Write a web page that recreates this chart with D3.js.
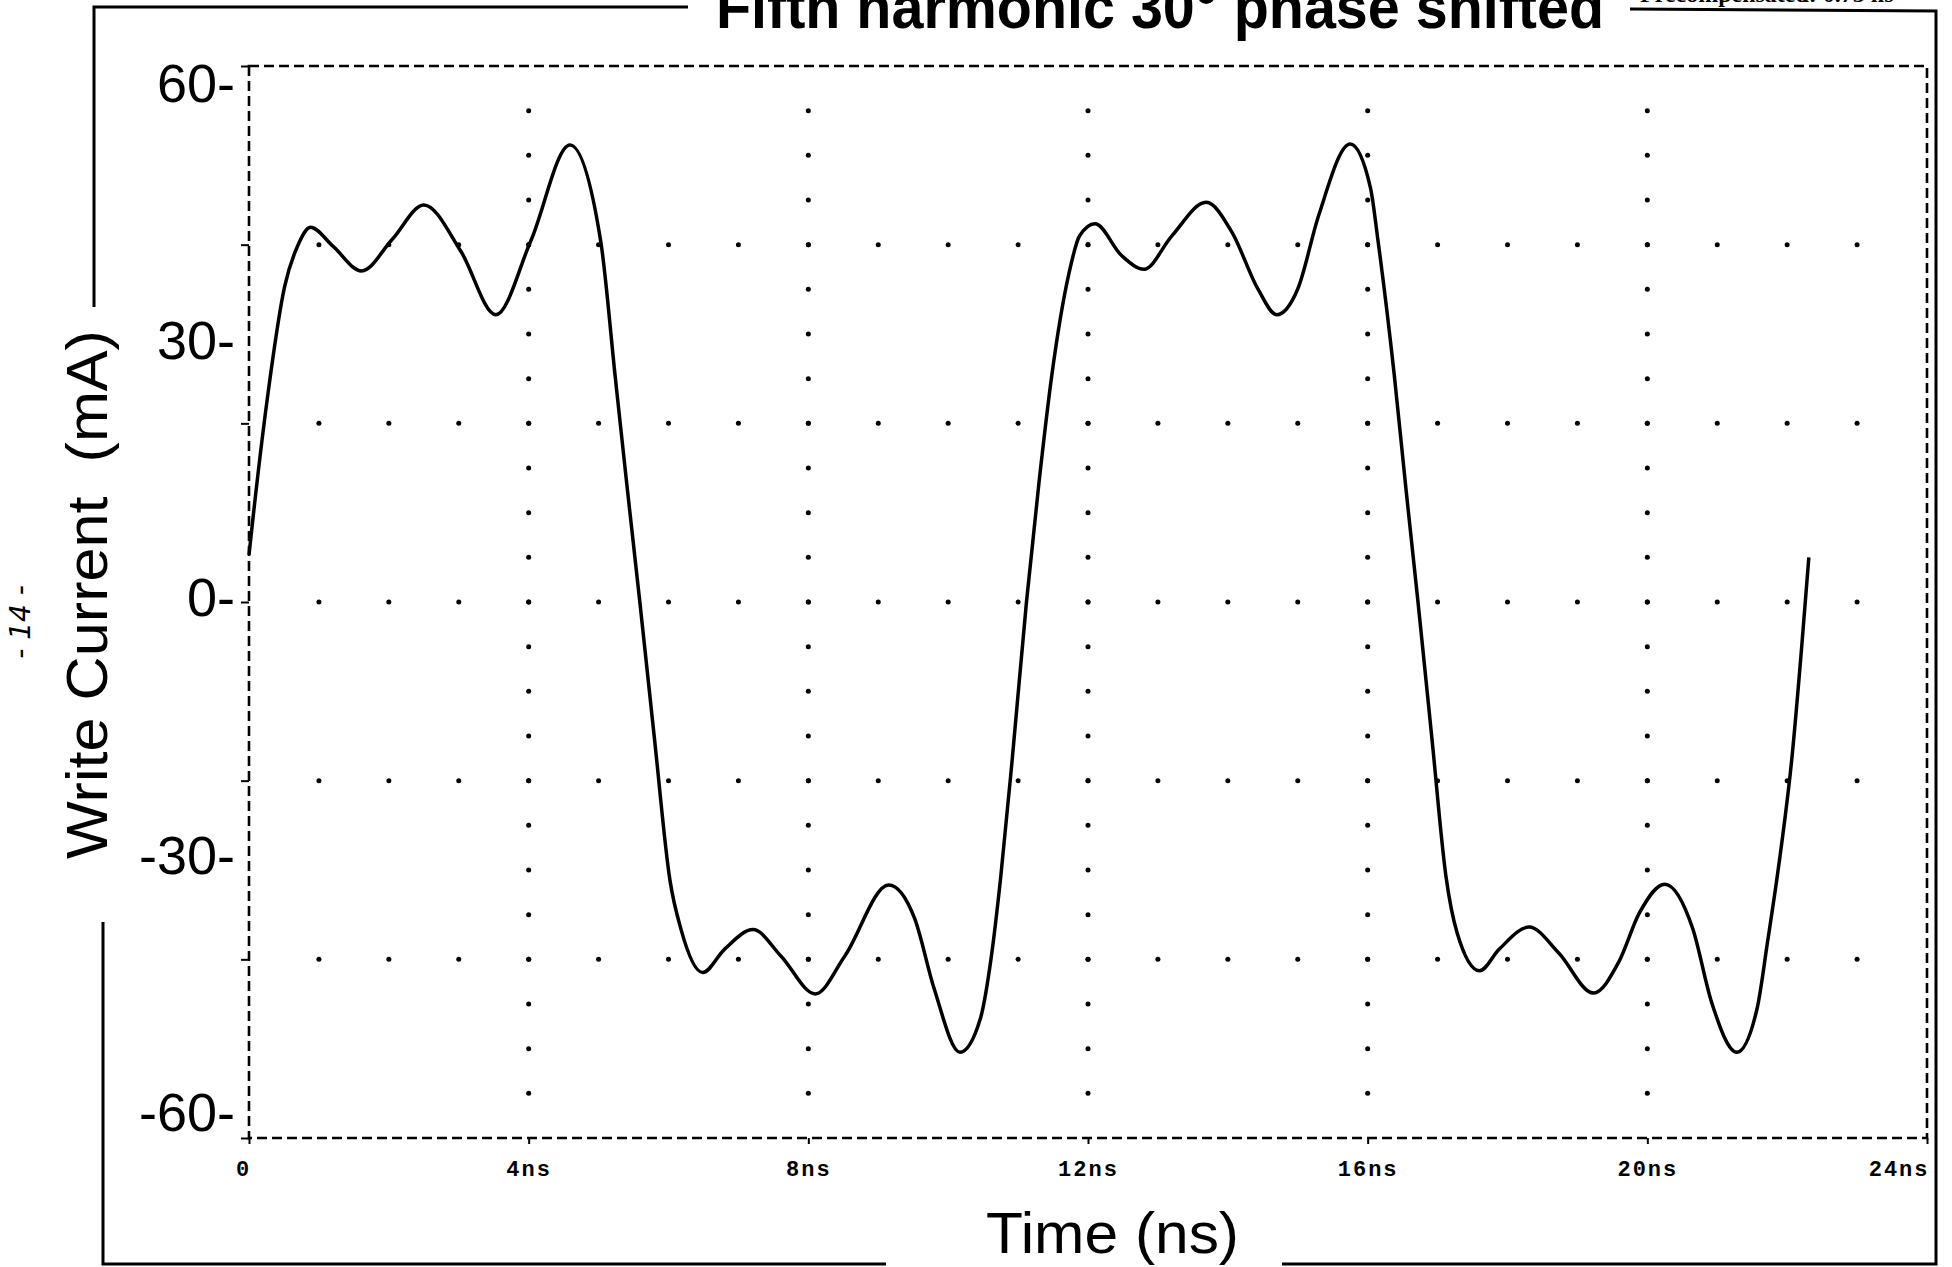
<!DOCTYPE html>
<html>
<head>
<meta charset="utf-8">
<script src="https://cdn.jsdelivr.net/npm/d3@7"></script>
<style>
  body { margin: 0; background: #fff; }
  svg { display: block; }
</style>
</head>
<body>
<div id="chart"></div>
<script>
// write current waveform (time in ns, current in mA)
var timeNs = [0.00, 0.06, 0.26, 0.51, 0.70, 0.88, 1.20, 1.61, 2.05, 2.50, 3.03, 3.53, 4.03, 4.59, 5.03,
  5.24, 5.40, 5.59, 5.80, 6.02, 6.18, 6.49, 6.80, 7.21, 7.61, 8.10, 8.52, 9.15, 9.52, 9.80, 10.17,
  10.46, 10.62, 10.75, 10.92, 11.12, 11.30, 11.48, 11.73, 11.88, 12.10, 12.48, 12.80, 13.20, 13.69,
  14.06, 14.43, 14.70, 15.00, 15.30, 15.75, 16.04, 16.15, 16.38, 16.55, 16.72, 16.92, 17.12, 17.28,
  17.60, 17.88, 18.31, 18.73, 19.23, 19.59, 19.89, 20.25, 20.65, 20.92, 21.28, 21.57, 21.72, 21.88,
  22.07, 22.21, 22.31];
var currentMA = [5.5, 10.0, 23.6, 36.8, 41.6, 43.7, 41.5, 38.6, 42.3, 46.3, 40.9, 33.5, 42.1, 53.3, 42.1,
  26.1, 14.0, 0.0, -16.0, -32.4, -38.2, -43.2, -40.5, -38.2, -41.3, -45.7, -41.3, -33.0, -36.9, -45.1, -52.5,
  -48.6, -41.2, -32.2, -18.0, 0.0, 14.0, 26.3, 38.4, 42.7, 44.1, 40.4, 38.8, 42.7, 46.6,
  43.1, 36.5, 33.5, 36.5, 45.1, 53.4, 48.3, 42.0, 26.5, 13.0, 0.0, -16.0, -32.0, -38.6,
  -43.0, -40.5, -37.9, -40.9, -45.6, -42.0, -36.2, -32.9, -38.1, -46.7, -52.5, -47.4, -39.6, -30.7,
  -18.0, -5.0, 5.2];

var xTicks = [0, 4, 8, 12, 16, 20, 24];
var yLabels = [60, 30, 0, -30, -60];
var titleText = "Fifth harmonic 30\u00b0 phase shifted";
var xTitle = "Time (ns)";
var yTitle = "Write Current  (mA)";

var W = 1952, H = 1267;
var plotL = 249, plotR = 1927, plotT = 66, plotB = 1138;
var yMax = 62.5;

var svg = d3.select("#chart").append("svg").attr("width", W).attr("height", H);

var x = d3.scaleLinear().domain([0, 24]).range([plotL, plotR]);
var y = d3.scaleLinear().domain([-yMax, yMax]).range([plotB, plotT]);

// dotted grid: rows at 6 divisions, columns every 4ns
var rowVals = d3.range(-2, 3).map(function(k){ return yMax * k / 3; });
var colVals = [4, 8, 12, 16, 20];
var nsSteps = d3.range(1, 24);
var subSteps = d3.range(1, 24).map(function(k){ return -yMax + k * 2 * yMax / 24; });

var dots = [];
rowVals.forEach(function(v){ nsSteps.forEach(function(t){ dots.push([t, v]); }); });
colVals.forEach(function(t){ subSteps.forEach(function(v){ dots.push([t, v]); }); });

svg.append("g").selectAll("circle")
  .data(dots).enter()
  .append("circle")
  .attr("cx", function(d){ return x(d[0]); })
  .attr("cy", function(d){ return y(d[1]); })
  .attr("r", 2.5)
  .style("fill", "#000");

// dashed plot box
svg.append("rect")
  .attr("x", plotL).attr("y", plotT)
  .attr("width", plotR - plotL).attr("height", plotB - plotT)
  .style("fill", "none").style("stroke", "#000")
  .style("stroke-width", 2.6).style("stroke-dasharray", "10,5");

// axis ticks
var xAxis = svg.append("g").attr("transform", "translate(0," + plotB + ")")
  .call(d3.axisBottom(x).tickValues(xTicks).tickSize(6)
    .tickFormat(function(d){ return d === 0 ? "0" : d + "ns"; }));
xAxis.select(".domain").remove();
xAxis.selectAll("line").style("stroke", "#000").style("stroke-width", 2);
xAxis.selectAll("text")
  .attr("y", 22)
  .style("font-family", "'Liberation Mono', 'DejaVu Sans Mono', monospace")
  .style("font-weight", "bold")
  .style("font-size", "22px")
  .style("letter-spacing", "2px")
  .style("fill", "#000");
xAxis.selectAll(".tick").filter(function(d){ return d === 24; }).select("text")
  .attr("text-anchor", "end").attr("dx", "2px");
xAxis.selectAll(".tick").filter(function(d){ return d === 0; }).select("text")
  .attr("dx", "-6px");

var yAxis = svg.append("g").attr("transform", "translate(" + plotL + ",0)")
  .call(d3.axisLeft(y).tickValues(rowVals.concat([-yMax, yMax])).tickSize(8).tickFormat(""));
yAxis.select(".domain").remove();
yAxis.selectAll("line").style("stroke", "#000").style("stroke-width", 2);

// y tick labels (pasted-on style with trailing dash)
svg.append("g").selectAll("text")
  .data(yLabels).enter()
  .append("text")
  .attr("x", plotL - 14)
  .attr("y", function(d){ return y(d) - 5; })
  .attr("dy", "0.36em")
  .attr("text-anchor", "end")
  .style("font-family", "'Liberation Sans', Arial, sans-serif")
  .style("font-size", "54px")
  .text(function(d){ return d + "-"; });

// the waveform
var line = d3.line()
  .x(function(d){ return x(d[0]); })
  .y(function(d){ return y(d[1]); })
  .curve(d3.curveMonotoneX);

svg.append("path")
  .datum(timeNs.map(function(t, i){ return [t, currentMA[i]]; }))
  .attr("d", line)
  .style("fill", "none").style("stroke", "#000")
  .style("stroke-width", 3.5).style("stroke-linejoin", "round");

// outer frame with gaps for the titles
var frame = [
  [[94, 307], [94, 7], [688, 7]],
  [[1630, 9], [1936, 11], [1936, 1264], [1282, 1264]],
  [[886, 1264], [103, 1264], [103, 922]]
];
svg.append("g").selectAll("polyline")
  .data(frame).enter()
  .append("polyline")
  .attr("points", function(d){ return d.map(function(p){ return p.join(","); }).join(" "); })
  .style("fill", "none").style("stroke", "#000").style("stroke-width", 3);

// titles
svg.append("text")
  .attr("x", 716).attr("y", 28)
  .attr("textLength", 888).attr("lengthAdjust", "spacingAndGlyphs")
  .style("font-family", "'Liberation Sans', Arial, sans-serif")
  .style("font-weight", "bold").style("font-size", "62px")
  .text(titleText);

svg.append("text")
  .attr("x", 1640).attr("y", 2)
  .style("font-family", "'Liberation Serif', serif")
  .style("font-weight", "bold").style("font-size", "24px")
  .text("Precompensated: 0.75 ns");

svg.append("text")
  .attr("x", 986).attr("y", 1253)
  .attr("textLength", 253).attr("lengthAdjust", "spacingAndGlyphs")
  .style("font-family", "'Liberation Sans', Arial, sans-serif")
  .style("font-size", "58px")
  .text(xTitle);

svg.append("text")
  .attr("transform", "translate(107,859) rotate(-90)")
  .attr("textLength", 529).attr("lengthAdjust", "spacingAndGlyphs")
  .style("white-space", "pre")
  .style("font-family", "'Liberation Sans', Arial, sans-serif")
  .style("font-size", "57px")
  .text(yTitle);

// handwritten page number in the margin
svg.append("text")
  .attr("transform", "translate(30,622) rotate(-90)")
  .attr("text-anchor", "middle")
  .style("white-space", "pre")
  .style("font-family", "'DejaVu Sans', sans-serif")
  .style("font-style", "italic")
  .style("font-size", "28px")
  .text("- 14 -");
</script>
</body>
</html>
